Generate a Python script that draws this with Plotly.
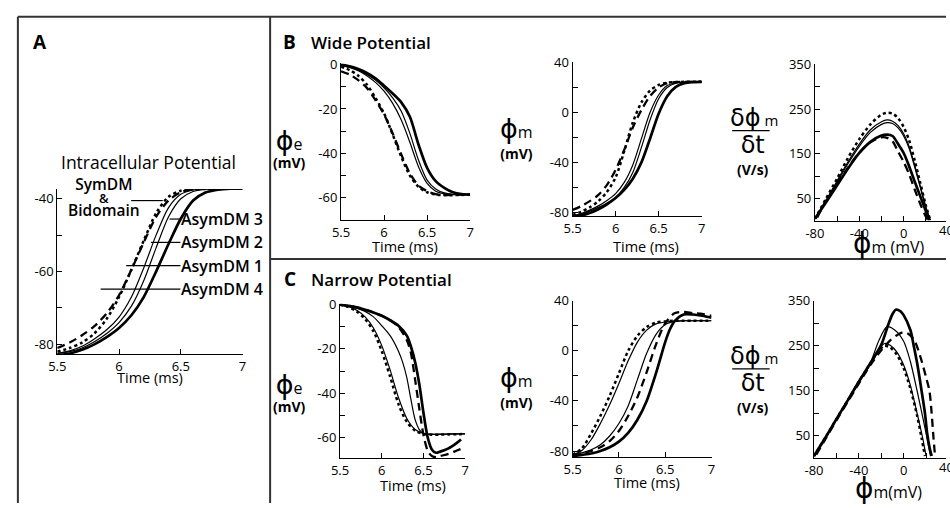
import plotly.graph_objects as go

W, H = 950, 508

# ---------------- data ----------------
T16 = [5.5, 5.6, 5.7, 5.8, 5.9, 6.0, 6.1, 6.2, 6.3, 6.4, 6.5, 6.6, 6.7, 6.8, 6.9, 7.0]

# Panel A: intracellular potential (mV)
a_sym = [-82, -81, -79.5, -77, -73, -67, -59.5, -51.5, -44, -39.5, -37.8, -37.4, -37.3, -37.2, -37.2, -37.2]
a_asym4 = [-81, -79.5, -77.5, -75, -71.5, -66.5, -59.5, -52, -45, -40.5, -38.2, -37.4, -37.2, -37.2, -37.2, -37.2]
a_asym1 = [-82.5, -81.8, -80.5, -78.5, -76, -72.5, -67, -59, -50, -42.5, -38.8, -37.6, -37.3, -37.2, -37.2, -37.2]
a_asym2 = [-82.5, -82, -81, -79.3, -77, -74, -69.5, -62.5, -53.5, -45, -40, -38, -37.4, -37.2, -37.2, -37.2]
a_asym3 = [-83, -82.5, -81.5, -80, -78, -75.5, -72, -67, -60, -52.5, -45.5, -40.5, -38.3, -37.5, -37.2, -37.2]

# Panel B (wide): phi_e
b1_sym = [-1, -2.5, -5, -9, -15, -22, -31.5, -41.5, -50, -55, -57.5, -58.5, -58.8, -58.8, -58.7, -58.5]
b1_asym4 = [-3, -4.5, -7, -10.5, -16, -22.5, -31, -40.5, -49, -54.5, -57, -58.3, -58.7, -58.7, -58.6, -58.5]
b1_asym1 = [-0.5, -1.3, -2.8, -5, -8, -12, -17.5, -25, -35, -46, -53.5, -57, -58.2, -58.6, -58.6, -58.5]
b1_asym2 = [-0.5, -1.2, -2.5, -4.5, -7, -10.5, -15, -21, -31, -43, -52, -56, -57.8, -58.4, -58.6, -58.5]
b1_asym3 = [0, -0.8, -2, -3.8, -6.2, -9.5, -13, -17, -23.5, -36, -46.5, -52.5, -55.5, -57.5, -58.3, -58.5]

# Panel B (wide): phi_m
b2_sym = [-82, -79.5, -76, -71, -63.5, -52, -31, -8, 8, 17.5, 22, 23.8, 24.3, 24.5, 24.5, 24.5]
b2_asym4 = [-78, -75, -71, -66, -58, -46, -30, -12, 2, 13, 20, 23.5, 24.3, 24.5, 24.5, 24.5]
b2_asym1 = [-82.8, -81, -78.2, -74.8, -70.5, -65, -56, -42, -21, 0, 14, 21.5, 23.8, 24.4, 24.5, 24.5]
b2_asym2 = [-83, -81.5, -79, -76, -72.5, -68, -60, -48, -28, -6, 11, 20, 23.5, 24.3, 24.5, 24.5]
b2_asym3 = [-83.5, -82.5, -80.5, -77.5, -73.5, -68.5, -62, -53, -40, -21, -1, 13, 20.5, 23.5, 24.3, 24.5]

# Panel B (wide): dphi_m/dt vs phi_m
b3_v = [-80, -70, -60, -50, -40, -30, -20, -15, -10, -5, 0, 5, 10, 15, 20, 24]
b3_sym = [5, 50, 95, 142, 183, 216, 238, 242, 240, 230, 210, 180, 135, 85, 35, 2]
b3_asym1 = [5, 46, 90, 133, 172, 204, 222, 226, 223, 213, 195, 166, 124, 78, 32, 2]
b3_asym2 = [5, 45, 87, 129, 167, 198, 216, 220, 218, 208, 190, 162, 120, 75, 30, 2]
b3_v3 = [-80, -70, -60, -50, -40, -30, -20, -15, -10, -5, 0, 5, 10, 15, 20, 23]
b3_asym3 = [5, 42, 80, 118, 152, 177, 191, 193, 190, 172, 152, 122, 88, 55, 22, 2]
b3_v4 = [-78, -70, -60, -50, -40, -30, -20, -15, -10, -5, 0, 5, 10, 15, 20, 22]
b3_asym4 = [8, 45, 83, 120, 153, 176, 187, 186, 178, 155, 132, 104, 70, 38, 10, 2]

# Panel C (narrow): phi_e
c1_sym = [0, -1, -3, -6.5, -12, -21, -32.5, -45, -53, -57, -58.5, -58.8, -58.8, -58.7, -58.6, -58.5]
c1_asym1 = [0, -0.8, -2.5, -5.5, -10.5, -18.5, -29.5, -42, -51.5, -56.5, -58.3, -58.7, -58.7, -58.6, -58.5, -58.5]
c1_t2 = [5.5, 5.6, 5.7, 5.8, 5.9, 6.0, 6.1, 6.2, 6.25, 6.3, 6.35, 6.4, 6.45, 6.5, 6.6, 6.7, 6.8, 7.0]
c1_asym2 = [0, -0.5, -1.5, -3, -5.5, -9.5, -14, -21, -26, -33, -43, -52, -56.5, -58.3, -58.6, -58.6, -58.5, -58.5]
c1_t3 = [5.5, 5.6, 5.7, 5.8, 5.9, 6.0, 6.1, 6.2, 6.3, 6.35, 6.4, 6.45, 6.5, 6.55, 6.6, 6.65, 6.7, 6.8, 6.9, 6.95]
c1_asym3 = [0, -0.5, -1.2, -2.3, -3.5, -5, -7, -9.5, -14, -19, -26, -36, -49, -60, -65.5, -67, -66.5, -65, -62.5, -61]
c1_t4 = [5.5, 5.6, 5.7, 5.8, 5.9, 6.0, 6.1, 6.2, 6.3, 6.35, 6.4, 6.45, 6.5, 6.55, 6.6, 6.65, 6.7, 6.8, 6.9, 7.0]
c1_asym4 = [0, -0.5, -1.2, -2.3, -3.5, -5, -7, -10, -16, -22, -34, -47, -59, -66, -68.5, -69, -68.5, -67.5, -66, -64.5]

# Panel C (narrow): phi_m
c2_sym = [-83, -78, -66, -52, -36, -18, 0, 12, 19, 22.5, 23.5, 24, 24, 24, 24, 24]
c2_asym1 = [-83, -79.5, -71, -58, -43, -26, -8, 7, 16.5, 21.5, 23, 23.8, 24, 24, 24, 24]
c2_asym2 = [-83, -81.5, -79, -75, -68, -58, -44, -23, -2, 13, 21, 23.5, 24, 24, 24, 24]
c2_asym4 = [-83, -82, -80, -77, -72, -64, -52, -37, -17, 5, 22, 30, 31, 30, 29.5, 28]
c2_t3 = [5.5, 5.6, 5.7, 5.8, 5.9, 6.0, 6.1, 6.2, 6.3, 6.4, 6.5, 6.55, 6.6, 6.7, 6.8, 6.9, 7.0]
c2_asym3 = [-84, -83, -82, -80, -77, -72.5, -65.5, -55, -40, -18, 7, 17, 23.5, 29, 29, 28, 26.5]

# Panel C (narrow): dphi_m/dt vs phi_m
c3_v_sym = [-80, -70, -60, -50, -40, -30, -22, -17, -12, -6, 0, 6, 12, 16, 19]
c3_sym = [5, 45, 87, 128, 170, 210, 240, 250, 246, 230, 200, 155, 95, 45, 5]
c3_v1 = [-80, -70, -60, -50, -40, -30, -22, -17, -12, -6, 0, 6, 12, 17, 20]
c3_asym1 = [5, 45, 87, 128, 170, 210, 243, 255, 251, 236, 207, 162, 100, 45, 5]
c3_v2 = [-80, -70, -60, -50, -40, -30, -22, -15, -8, 0, 6, 12, 18, 22, 24]
c3_asym2 = [5, 45, 87, 128, 170, 210, 262, 292, 285, 260, 215, 150, 80, 30, 5]
c3_v3 = [-80, -70, -60, -50, -40, -30, -20, -14, -10, -7, -3, 0, 6, 9, 12, 16, 19, 21, 23, 25]
c3_asym3 = [5, 45, 87, 128, 170, 210, 252, 295, 320, 330, 327, 318, 285, 250, 212, 150, 100, 55, 25, 5]
c3_v4 = [-78, -70, -60, -50, -40, -30, -20, -12, -5, 0, 5, 10, 15, 20, 23, 25, 26.5, 28]
c3_asym4 = [8, 42, 84, 125, 166, 206, 240, 262, 275, 280, 275, 260, 225, 180, 150, 100, 50, 5]

time_ticks = [5.5, 6, 6.5, 7]
time_labels = ["5.5", "6", "6.5", "7"]

# ---------------- styles ----------------
STY = {
    "AsymDM 1": dict(color="black", width=1.2, dash="solid"),
    "AsymDM 2": dict(color="black", width=1.2, dash="solid"),
    "AsymDM 3": dict(color="black", width=2.7, dash="solid"),
    "AsymDM 4": dict(color="black", width=2.3, dash="8px,5px"),
    "SymDM": dict(color="black", width=2.5, dash="dot"),
}
FONT = "Open Sans"
PHI = "DejaVu Sans"

fig = go.Figure()


def px(x):
    return x / W


def py(y):
    return 1 - y / H


def add_axes(i, xpx, ypx, xr, yr, xtv, xtt, ytv, ytt):
    xs = "xaxis" if i == 1 else f"xaxis{i}"
    ys = "yaxis" if i == 1 else f"yaxis{i}"
    common = dict(ticks="inside", ticklen=5, tickwidth=1, tickcolor="black",
                  showline=True, linecolor="black", linewidth=1.2,
                  showgrid=False, zeroline=False, fixedrange=True,
                  tickfont=dict(family=FONT, size=13, color="black"))
    fig.layout[xs] = dict(domain=[px(xpx[0]), px(xpx[1])], range=xr,
                          anchor=f"y{'' if i == 1 else i}",
                          tickmode="array", tickvals=xtv, ticktext=xtt, **common)
    fig.layout[ys] = dict(domain=[py(ypx[1]), py(ypx[0])], range=yr,
                          anchor=f"x{'' if i == 1 else i}",
                          tickmode="array", tickvals=ytv, ticktext=ytt, **common)


def add_line(i, x, y, name):
    fig.add_trace(go.Scatter(
        x=x, y=y, mode="lines", name=name, showlegend=False, hoverinfo="skip",
        line=dict(shape="spline", smoothing=0.8, **STY[name]),
        xaxis="x" if i == 1 else f"x{i}", yaxis="y" if i == 1 else f"y{i}"))


# axes
add_axes(1, (48, 236), (185, 355), [5.5, 7], [-82.7, -37.3], time_ticks, time_labels,
         [-80, -70, -60, -50, -40], ["-80", "", "-60", "", "-40"])
add_axes(2, (336, 467), (56, 217), [5.5, 7], [-70, 0.5], time_ticks, time_labels,
         [-60, -50, -40, -30, -20, -10, 0], ["-60", "", "-40", "", "-20", "", "0"])
add_axes(3, (571, 702), (55, 213), [5.5, 7], [-83, 40], time_ticks, time_labels,
         [-80, -60, -40, -20, 0, 20, 40], ["-80", "", "-40", "", "0", "", "40"])
add_axes(4, (817, 950), (57, 218), [-80, 38.2], [0, 350],
         [-80, -60, -40, -20, 0, 20], ["-80", "", "-40", "", "0", ""],
         [50, 100, 150, 200, 250, 300, 350], ["50", "", "150", "", "250", "", "350"])
add_axes(5, (335, 462), (303, 462), [5.5, 7], [-69.5, 0.5], time_ticks, time_labels,
         [-60, -50, -40, -30, -20, -10, 0], ["-60", "", "-40", "", "-20", "", "0"])
add_axes(6, (571, 712), (300, 461), [5.5, 7], [-85, 40], time_ticks, time_labels,
         [-80, -60, -40, -20, 0, 20, 40], ["-80", "", "-40", "", "0", "", "40"])
add_axes(7, (816, 950), (300, 462), [-80, 37.8], [0, 350],
         [-80, -60, -40, -20, 0, 20], ["-80", "", "-40", "", "0", ""],
         [50, 100, 150, 200, 250, 300, 350], ["50", "", "150", "", "250", "", "350"])

# traces
panels = [
    (1, [(T16, a_asym1, "AsymDM 1"), (T16, a_asym2, "AsymDM 2"), (T16, a_asym3, "AsymDM 3"),
         (T16, a_asym4, "AsymDM 4"), (T16, a_sym, "SymDM")]),
    (2, [(T16, b1_asym1, "AsymDM 1"), (T16, b1_asym2, "AsymDM 2"), (T16, b1_asym3, "AsymDM 3"),
         (T16, b1_asym4, "AsymDM 4"), (T16, b1_sym, "SymDM")]),
    (3, [(T16, b2_asym1, "AsymDM 1"), (T16, b2_asym2, "AsymDM 2"), (T16, b2_asym3, "AsymDM 3"),
         (T16, b2_asym4, "AsymDM 4"), (T16, b2_sym, "SymDM")]),
    (4, [(b3_v, b3_asym1, "AsymDM 1"), (b3_v, b3_asym2, "AsymDM 2"), (b3_v3, b3_asym3, "AsymDM 3"),
         (b3_v4, b3_asym4, "AsymDM 4"), (b3_v, b3_sym, "SymDM")]),
    (5, [(T16, c1_asym1, "AsymDM 1"), (c1_t2, c1_asym2, "AsymDM 2"), (c1_t3, c1_asym3, "AsymDM 3"),
         (c1_t4, c1_asym4, "AsymDM 4"), (T16, c1_sym, "SymDM")]),
    (6, [(T16, c2_asym1, "AsymDM 1"), (T16, c2_asym2, "AsymDM 2"), (c2_t3, c2_asym3, "AsymDM 3"),
         (T16, c2_asym4, "AsymDM 4"), (T16, c2_sym, "SymDM")]),
    (7, [(c3_v1, c3_asym1, "AsymDM 1"), (c3_v2, c3_asym2, "AsymDM 2"), (c3_v3, c3_asym3, "AsymDM 3"),
         (c3_v4, c3_asym4, "AsymDM 4"), (c3_v_sym, c3_sym, "SymDM")]),
]
for i, series in panels:
    for x, y, name in series:
        add_line(i, x, y, name)

# ---------------- annotations ----------------
ann = []


def text(x, y, s, size=13, family=FONT, xanchor="center", yanchor="middle", weight="normal"):
    ann.append(dict(x=px(x), y=py(y), xref="paper", yref="paper", text=s, showarrow=False,
                    xanchor=xanchor, yanchor=yanchor, borderpad=0,
                    font=dict(family=family, size=size, color="black", weight=weight)))


def big(s, size, fam=PHI):
    return f"<span style='font-family:{fam};font-size:{size}px'>{s}</span>"


def sz(s, size, bold=False):
    inner = f"<b>{s}</b>" if bold else s
    return f"<span style='font-size:{size}px'>{inner}</span>"


text(30, 34, "<b>A</b>", 19)
text(284, 34, "<b>B</b>", 19)
text(304, 34, "Wide Potential", 17, xanchor="left", weight=600)
text(284, 278, "<b>C</b>", 19)
text(304, 278, "Narrow Potential", 17, xanchor="left", weight=600)
text(141, 157, "Intracellular Potential", 17.5)

for (x, y) in [(142, 379), (401, 244), (646, 244), (409, 490), (647, 487)]:
    text(x, y, "Time (ms)", 14.5)

# y titles phi_e / phi_m  (symbol line + unit line in one block)
for (x, y) in [(284, 143), (284, 394)]:
    text(x, y, big("ϕ", 27) + sz("e", 16) + "<br>" + sz("(mV)", 14, True), 14)
for (x, y) in [(514, 133), (514, 389)]:
    text(x, y, big("ϕ", 27) + sz("m", 16) + "<br>" + sz("(mV)", 14, True), 16)

# derivative titles
shapes = []
for L in [125, 370]:
    text(755, L - 13, big("δϕ", 24) + " m", 15)
    text(754, L + 25, big("δt", 24) + "<br>" + sz("(V/s)", 14, True), 17)
    shapes.append(dict(type="line", xref="paper", yref="paper",
                       x0=px(733), x1=px(771), y0=py(L), y1=py(L),
                       line=dict(color="black", width=1.3)))

# phase-plot x titles
text(892, 241, big("ϕ", 28) + "m (mV)", 16)
text(892, 493, big("ϕ", 28) + "m(mV)", 16)

# partially visible "40" tick labels at right edge
text(951, 227, "40", 13)
text(950, 471, "40", 13)

# panel A legend labels with leader lines
text(95, 193, sz("SymDM", 15.5) + "<br>" + sz("&amp;", 13) + "<br>" + sz("Bidomain", 15.5),
     10, weight=600)
shapes.append(dict(type="line", xref="paper", yref="paper",
                   x0=px(123), x1=px(155), y0=py(197), y1=py(197),
                   line=dict(color="black", width=1.2)))
for lab, y, x0 in [("AsymDM 3", 216, 162), ("AsymDM 2", 240, 143),
                   ("AsymDM 1", 264, 118), ("AsymDM 4", 288, 92)]:
    text(173, y, lab, 16, xanchor="left", weight=600)
    shapes.append(dict(type="line", xref="paper", yref="paper",
                       x0=px(x0), x1=px(173), y0=py(y), y1=py(y),
                       line=dict(color="black", width=1.2)))

# frame / dividers
frame = dict(color="#333333", width=2)
for (x0, y0, x1, y1) in [(8, 8, 950, 8), (8, 8, 8, 508), (264, 8, 264, 508), (264, 257, 950, 257)]:
    shapes.append(dict(type="line", xref="paper", yref="paper",
                       x0=px(x0), x1=px(x1), y0=py(y0), y1=py(y1), line=frame))

fig.update_layout(width=W, height=H, margin=dict(l=0, r=0, t=0, b=0),
                  paper_bgcolor="white", plot_bgcolor="white",
                  annotations=ann, shapes=shapes, showlegend=False)

fig.write_html("out.html", config={"displayModeBar": False},
               post_script="document.documentElement.style.margin='0';"
                           "document.body.style.margin='0';"
                           "document.body.style.overflow='hidden';")
